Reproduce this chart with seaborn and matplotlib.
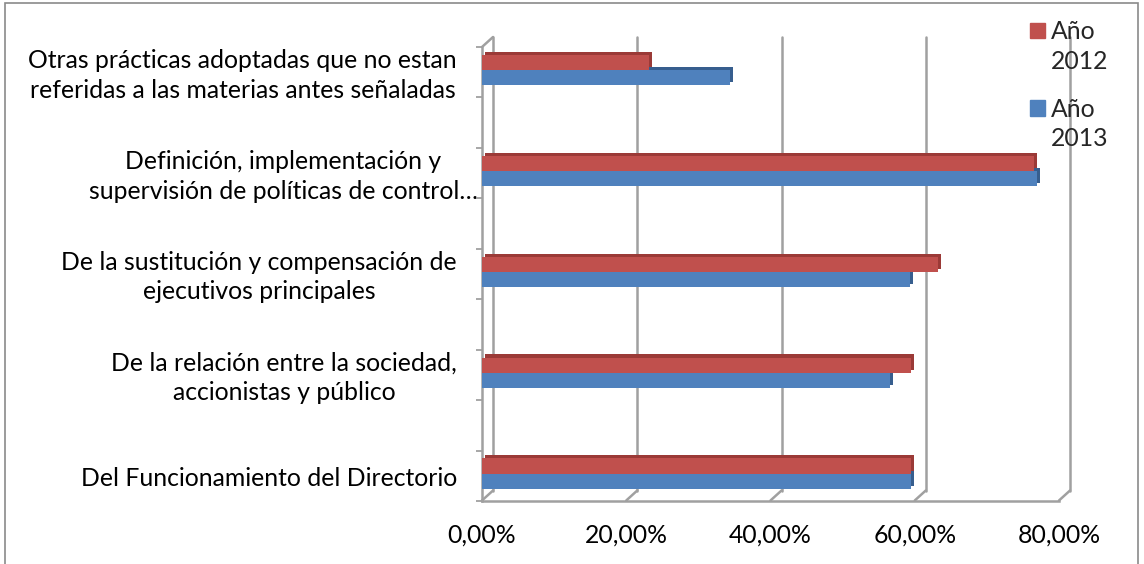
import numpy as np
import pandas as pd
import matplotlib
matplotlib.use("Agg")
import matplotlib.pyplot as plt
import matplotlib.patheffects as pe
import matplotlib.transforms as mtransforms
from matplotlib.patches import Patch, Rectangle
from matplotlib.lines import Line2D
from matplotlib.legend_handler import HandlerPatch
import seaborn as sns

# datos
categorias = [
    "Otras prácticas adoptadas que no estan\nreferidas a las materias antes señaladas",
    "Definición, implementación y\nsupervisión de políticas de control…",
    "De la sustitución y compensación de\nejecutivos principales",
    "De la relación entre la sociedad,\naccionistas y público",
    "Del Funcionamiento del Directorio",
]
series = ["Año 2012", "Año 2013"]
valores_2012 = [0.231, 0.765, 0.632, 0.595, 0.595]
valores_2013 = [0.344, 0.770, 0.594, 0.566, 0.595]
x_ticks = [0.0, 0.2, 0.4, 0.6, 0.8]
x_labels = ["0,00%", "20,00%", "40,00%", "60,00%", "80,00%"]

rojo, azul = "#C0504D", "#4F81BD"
rojo_osc, azul_osc = "#9B3A37", "#375E8E"
gris = "#A0A0A0"

df = pd.DataFrame({
    "categoria": categorias * 2,
    "serie": [series[0]] * len(categorias) + [series[1]] * len(categorias),
    "valor": valores_2012 + valores_2013,
})

sns.set_theme(style="white")
plt.rcParams["font.family"] = ["Lato", "DejaVu Sans"]
FS = 17.8
LS = 1.35

W, H = 1144, 564
fig = plt.figure(figsize=(W / 100, H / 100), dpi=100)
ax = fig.add_axes([482 / W, 1 - 501 / H, (1059 - 482) / W, (501 - 47) / H])

sns.barplot(data=df, x="valor", y="categoria", hue="serie", order=categorias,
            hue_order=series, palette=[rojo, azul], width=0.3, orient="h",
            saturation=1, errorbar=None, legend=False, ax=ax)

# efecto 3D simple: sombra desplazada arriba-derecha
for cont, zo, osc in zip(ax.containers, [4, 3], [rojo_osc, azul_osc]):
    for bar in cont:
        bar.set_zorder(zo)
        bar.set_linewidth(0)
        bar.set_path_effects([
            pe.SimplePatchShadow(offset=(2.2, 2.2), shadow_rgbFace=osc, alpha=1),
            pe.Normal(),
        ])

y_top, y_bot = -0.228, 4.267
ax.set_xlim(x_ticks[0], x_ticks[-1])
ax.set_ylim(y_bot, y_top)
ax.set_xlabel("")
ax.set_ylabel("")

for s in ["top", "right"]:
    ax.spines[s].set_visible(False)
for s in ["left", "bottom"]:
    ax.spines[s].set_color(gris)
    ax.spines[s].set_linewidth(1.8)

ax.set_xticks(x_ticks, x_labels, fontsize=FS)
ax.tick_params(axis="x", length=4.3, width=1.3, color=gris, pad=12, labelcolor="black")
ax.set_yticks(range(len(categorias)), categorias, fontsize=FS)
ax.tick_params(axis="y", which="major", length=0, pad=18, labelcolor="black")
ax.set_yticks(np.arange(y_top, y_bot + 0.01, 0.5), minor=True)
ax.tick_params(axis="y", which="minor", length=4.3, width=1.3, color=gris, left=True)

for lbl in ax.get_yticklabels():
    lbl.set_multialignment("center")
    lbl.set_linespacing(LS)
lbl = ax.get_yticklabels()[1]
lbl.set_transform(lbl.get_transform() + mtransforms.ScaledTranslation(0.21, 0, fig.dpi_scale_trans))
lbl = ax.get_yticklabels()[-1]
lbl.set_transform(lbl.get_transform() + mtransforms.ScaledTranslation(0, -0.03, fig.dpi_scale_trans))

# pared de fondo (desplazamiento de profundidad)
dx = 11 * (x_ticks[-1] - x_ticks[0]) / (1059 - 482)
dy = 10 * (y_bot - y_top) / (501 - 47)
for t in x_ticks:
    ax.add_line(Line2D([t + dx, t + dx], [y_bot - dy, y_top - dy], color=gris, lw=1.8, zorder=1, clip_on=False))
    ax.add_line(Line2D([t, t + dx], [y_bot, y_bot - dy], color=gris, lw=1.8, zorder=1, clip_on=False))
ax.add_line(Line2D([x_ticks[0], x_ticks[0] + dx], [y_top, y_top - dy], color=gris, lw=1.8, zorder=1, clip_on=False))


# cuadro de leyenda alineado con la primera línea del texto
def cuadro_arriba(legend, orig_handle, xdescent, ydescent, width, height, fontsize):
    return Rectangle((-xdescent, -ydescent + fontsize * 1.2 * LS * 0.42), width, height)


handles = [Patch(color=rojo), Patch(color=azul)]
leg = fig.legend(handles, ["Año\n2012", "Año\n2013"], loc="upper left",
                 bbox_to_anchor=(1008 / W, 1 + 2 / H), frameon=False, fontsize=FS,
                 handlelength=0.6, handleheight=0.6, handletextpad=0.25, labelspacing=1.0,
                 handler_map={Patch: HandlerPatch(patch_func=cuadro_arriba)})
for txt in leg.get_texts():
    txt.set_linespacing(LS)

fig.add_artist(Rectangle((5 / W, -0.1), (1138 - 5) / W, 1.1 - 3 / H, transform=fig.transFigure,
                         fill=False, ec="#8A8A8A", lw=1.2))

fig.savefig("out.png", dpi=100)
